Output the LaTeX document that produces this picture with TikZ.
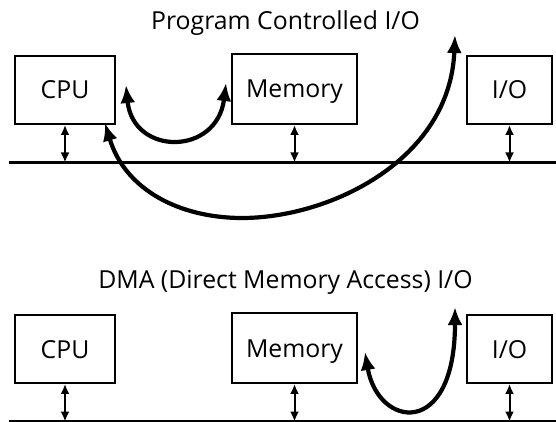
\documentclass[tikz,border=0pt]{standalone}
\usepackage{fontspec}
\setmainfont{Open Sans}
\usetikzlibrary{arrows.meta}

\begin{document}
\begin{tikzpicture}[x=1pt,y=-1pt,
  font=\fontsize{24.8}{29}\selectfont,
  box/.style={draw,line width=1.9pt,inner sep=0pt,text height=18pt,text depth=0pt},
  bus/.style={line width=2.2pt},
  dbl/.style={{Latex[length=10pt,width=9pt]}-{Latex[length=10pt,width=9pt]},line width=2pt},
  curve/.style={{Latex[length=18pt,width=15pt]}-{Latex[length=18pt,width=15pt]},line width=4.2pt}]
  \useasboundingbox (0,0) rectangle (556,422);
  % program controlled I/O
  \node[anchor=base] (t1) at (285.5,29.5) {Program Controlled I/O};
  \node[box,minimum width=100pt,minimum height=68pt] (cpu) at (65,90) {CPU};
  \node[box,minimum width=125pt,minimum height=70pt] (mem) at (294.5,89) {Memory};
  \node[box,minimum width=85pt,minimum height=68pt] (io) at (509.5,90) {I/O};
  \coordinate (busA) at (9,162.5);\coordinate (busB) at (556,162.5);
  \coordinate (pctip) at (455,35);
  \draw[bus] (busA)--(busB);
  \draw[dbl] (cpu.south)--(cpu.south|-busA);
  \draw[dbl] (mem.south)--(mem.south|-busA);
  \draw[dbl] (io.south)--(io.south|-busA);
  \draw[curve] ([shift={(10,-5)}]cpu.east) .. controls (133,156) and (217,156) .. ([shift={(-5,-6)}]mem.west);
  \draw[curve] ([shift={(-11,-2)}]cpu.south east) .. controls (125,190) and (180,218) .. (242,218)
    .. controls (330,218) and (450,160) .. (pctip);
  % DMA
  \node[anchor=base] (t2) at (285.5,288.5) {DMA (Direct Memory Access) I/O};
  \node[box,minimum width=100pt,minimum height=68pt] (cpu2) at (65,349) {CPU};
  \node[box,minimum width=125pt,minimum height=70pt] (mem2) at (294.5,348) {Memory};
  \node[box,minimum width=85pt,minimum height=68pt] (io2) at (509.5,349) {I/O};
  \coordinate (bus2A) at (9,421.5);\coordinate (bus2B) at (556,421.5);
  \coordinate (dmatip) at (455,307);
  \draw[bus] (bus2A)--(bus2B);
  \draw[dbl] (cpu2.south)--(cpu2.south|-bus2A);
  \draw[dbl] (mem2.south)--(mem2.south|-bus2A);
  \draw[dbl] (io2.south)--(io2.south|-bus2A);
  \draw[curve] ([shift={(7,4)}]mem2.east) .. controls (378,428) and (455,440) .. (dmatip);
\end{tikzpicture}
\end{document}
